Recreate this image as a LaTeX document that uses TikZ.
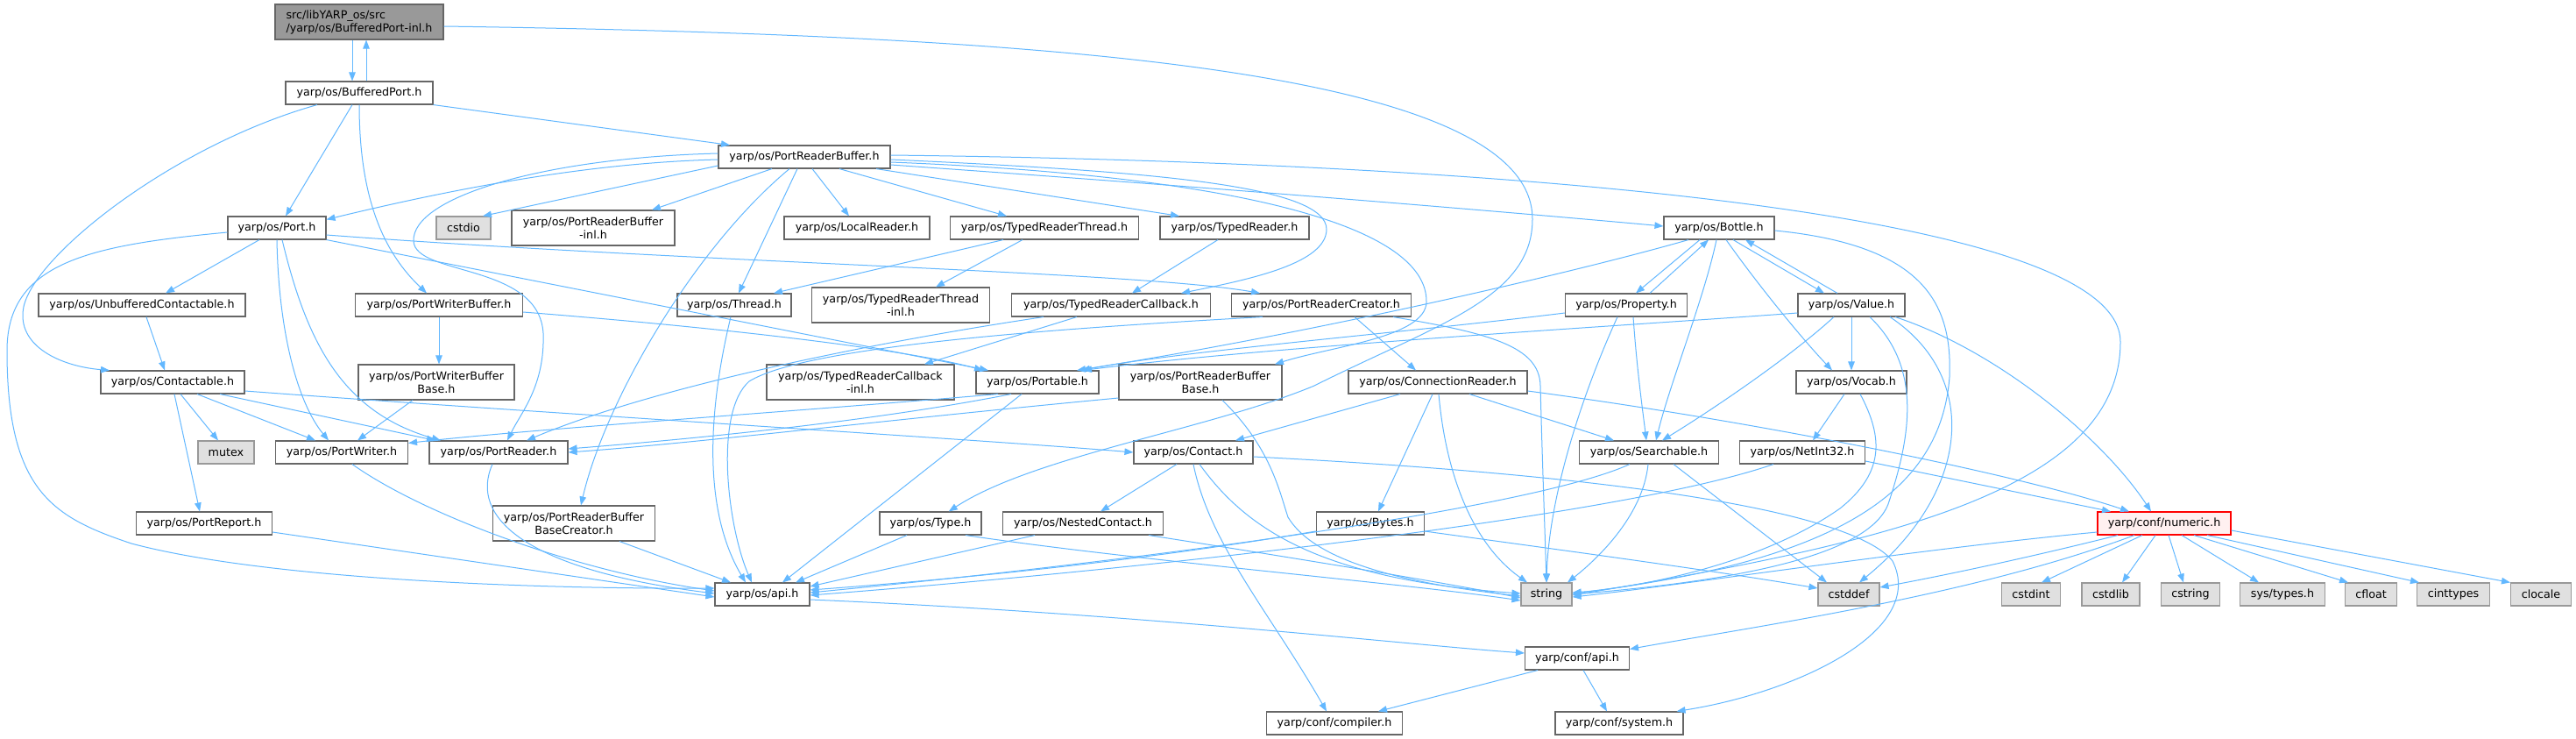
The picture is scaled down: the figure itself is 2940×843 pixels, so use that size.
\documentclass[tikz,border=0pt]{standalone}
\usepackage{fontspec}
\setmainfont{DejaVu Sans}
\usetikzlibrary{arrows.meta}
\definecolor{edgec}{HTML}{63B8FF}
\definecolor{bordc}{HTML}{666666}
\definecolor{extb}{HTML}{999999}
\definecolor{extf}{HTML}{E0E0E0}
\definecolor{topf}{HTML}{999999}
\definecolor{redb}{HTML}{FF0000}
\definecolor{redf}{HTML}{FFF0F0}
\begin{document}
\begin{tikzpicture}[x=1pt,y=-1pt,
 box/.style={draw=bordc, fill=white, line width=1.1pt, inner sep=0pt, minimum height=26pt,
   font=\fontsize{12.7}{15}\selectfont, align=center, text=black},
 box2/.style={box, minimum height=40pt},
 ext/.style={box, draw=extb, fill=extf},
 topbox/.style={box2, fill=topf, align=left},
 redbox/.style={box, draw=redb, fill=redf},
 edge/.style={draw=edgec, line width=1pt, -{Triangle[length=10pt,width=7.5pt]}}]
\useasboundingbox (0,0) rectangle (2940,843);
\fill[white] (0,0) rectangle (2940,843);
% nodes
\node[topbox, minimum width=192pt] (T) at (410,25) {src/libYARP\_os/src\\/yarp/os/BufferedPort-inl.h};
\node[box, minimum width=168pt] (BP) at (410,106) {yarp/os/BufferedPort.h};
\node[box, minimum width=196pt] (PRB) at (918,179) {yarp/os/PortReaderBuffer.h};
\node[box, minimum width=112pt] (Port) at (316,260) {yarp/os/Port.h};
\node[ext, minimum width=62pt] (cstdio) at (529,260) {cstdio};
\node[box2, minimum width=186pt] (PRBinl) at (677,260) {yarp/os/PortReaderBuffer\\-inl.h};
\node[box, minimum width=166pt] (LocalReader) at (978,260) {yarp/os/LocalReader.h};
\node[box, minimum width=215pt] (TRT) at (1192,260) {yarp/os/TypedReaderThread.h};
\node[box, minimum width=170pt] (TR) at (1409,260) {yarp/os/TypedReader.h};
\node[box, minimum width=126pt] (Bottle) at (1962,260) {yarp/os/Bottle.h};
\node[box, minimum width=236pt] (UC) at (162,348) {yarp/os/UnbufferedContactable.h};
\node[box, minimum width=191pt] (PWB) at (501,348) {yarp/os/PortWriterBuffer.h};
\node[box, minimum width=130pt] (Thread) at (838,348) {yarp/os/Thread.h};
\node[box2, minimum width=203pt] (TRTinl) at (1028,348) {yarp/os/TypedReaderThread\\-inl.h};
\node[box, minimum width=227pt] (TRC) at (1268,348) {yarp/os/TypedReaderCallback.h};
\node[box, minimum width=205pt] (PRC) at (1508,348) {yarp/os/PortReaderCreator.h};
\node[box, minimum width=139pt] (Property) at (1856,348) {yarp/os/Property.h};
\node[box, minimum width=122pt] (Value) at (2113,348) {yarp/os/Value.h};
\node[box, minimum width=164pt] (Contactable) at (197,436) {yarp/os/Contactable.h};
\node[box2, minimum width=178pt] (PWBB) at (498,436) {yarp/os/PortWriterBuffer\\Base.h};
\node[box2, minimum width=214pt] (TRCinl) at (982,436) {yarp/os/TypedReaderCallback\\-inl.h};
\node[box, minimum width=140pt] (Portable) at (1184,436) {yarp/os/Portable.h};
\node[box2, minimum width=186pt] (PRBB) at (1370,436) {yarp/os/PortReaderBuffer\\Base.h};
\node[box, minimum width=204pt] (CR) at (1641,436) {yarp/os/ConnectionReader.h};
\node[box, minimum width=126pt] (Vocab) at (2113,436) {yarp/os/Vocab.h};
\node[ext, minimum width=64pt] (mutex) at (258,516) {mutex};
\node[box, minimum width=151pt] (PW) at (390,516) {yarp/os/PortWriter.h};
\node[box, minimum width=158pt] (PR) at (569,516) {yarp/os/PortReader.h};
\node[box, minimum width=136pt] (Contact) at (1362,516) {yarp/os/Contact.h};
\node[box, minimum width=159pt] (Searchable) at (1882,516) {yarp/os/Searchable.h};
\node[box, minimum width=143pt] (NetInt32) at (2057,516) {yarp/os/NetInt32.h};
\node[box, minimum width=155pt] (PortReport) at (233,597) {yarp/os/PortReport.h};
\node[box2, minimum width=185pt] (PRBBC) at (655,597) {yarp/os/PortReaderBuffer\\BaseCreator.h};
\node[box, minimum width=116pt] (Type) at (1062,597) {yarp/os/Type.h};
\node[box, minimum width=183pt] (NC) at (1236,597) {yarp/os/NestedContact.h};
\node[box, minimum width=123pt] (Bytes) at (1564,597) {yarp/os/Bytes.h};
\node[redbox, minimum width=152pt] (numeric) at (2470,597) {yarp/conf/numeric.h};
\node[box, minimum width=108pt] (api) at (870,678) {yarp/os/api.h};
\node[ext, minimum width=58pt] (string) at (1765,678) {string};
\node[ext, minimum width=70pt] (cstddef) at (2110,678) {cstddef};
\node[ext, minimum width=67pt] (cstdint) at (2318,678) {cstdint};
\node[ext, minimum width=66pt] (cstdlib) at (2409,678) {cstdlib};
\node[ext, minimum width=67pt] (cstring) at (2500,678) {cstring};
\node[ext, minimum width=97pt] (systypes) at (2605,678) {sys/types.h};
\node[ext, minimum width=59pt] (cfloat) at (2706,678) {cfloat};
\node[ext, minimum width=83pt] (cinttypes) at (2800,678) {cinttypes};
\node[ext, minimum width=69pt] (clocale) at (2900,678) {clocale};
\node[box, minimum width=119pt] (confapi) at (1800,751) {yarp/conf/api.h};
\node[box, minimum width=155pt] (compiler) at (1523,825) {yarp/conf/compiler.h};
\node[box, minimum width=146pt] (system) at (1848,825) {yarp/conf/system.h};
% edges
\draw[edge] ([xshift=-8pt]T.south) -- ([xshift=-8pt]BP.north);
\draw[edge] ([xshift=8pt]BP.north) -- ([xshift=8pt]T.south);
\draw[edge] ([yshift=-5pt]T.east) .. controls (1200,40) and (1749,80) .. (1749,250) .. controls (1749,340) and (1640,370) .. (1500,440) .. controls (1380,490) and (1180,520) .. (Type);
\draw[edge] ([xshift=-48pt]BP.south) .. controls (200,165) and (40,290) .. (27,350) .. controls (18,395) and (70,418) .. ([xshift=-72pt]Contactable.north);
\draw[edge] ([xshift=-8pt]BP.south) -- ([xshift=10pt]Port.north);
\draw[edge] (BP.south) .. controls (410,230) and (440,290) .. ([xshift=-14pt]PWB.north);
\draw[edge] (BP.south east) -- ([xshift=-85pt]PRB.north);
\draw[edge] ([xshift=-20pt]Port.south) -- ([xshift=27pt]UC.north);
\draw[edge] ([yshift=-5pt]Port.west) .. controls (100,280) and (8,300) .. (8,400) .. controls (8,560) and (60,590) .. (150,620) .. controls (300,660) and (600,672) .. ([yshift=7pt]api.west);
\draw[edge] (Port.south) .. controls (318,380) and (340,460) .. ([xshift=-15pt]PW.north);
\draw[edge] ([xshift=6pt]Port.south) .. controls (350,390) and (390,470) .. ([xshift=-66pt]PR.north);
\draw[edge] ([yshift=-8pt]Port.east) .. controls (800,300) and (1300,310) .. ([xshift=-70pt]PRC.north);
\draw[edge] (Port.south east) -- ([xshift=-56pt]Portable.north);
\draw[edge] (PWB.south) -- (PWB.south |- PWBB.north);
\draw[edge] ([yshift=-8pt]PWB.east) .. controls (900,380) and (1060,405) .. ([xshift=-62pt]Portable.north);
\draw[edge] ([xshift=5pt]UC.south) -- ([xshift=-9pt]Contactable.north);
\draw[edge] ([xshift=9pt]Contactable.south) -- ([xshift=-9pt]mutex.north);
\draw[edge] ([xshift=28pt]Contactable.south) -- ([xshift=-30pt]PW.north);
\draw[edge] ([xshift=54pt]Contactable.south) -- ([xshift=-72pt]PR.north);
\draw[edge] ([yshift=-10pt]Contactable.east) .. controls (600,470) and (1100,500) .. (Contact.west);
\draw[edge] ([xshift=2pt]Contactable.south) -- ([xshift=-5pt]PortReport.north);
\draw[edge] ([xshift=-27pt]PWBB.south) -- ([xshift=18pt]PW.north);
\draw[edge] ([xshift=12pt]PW.south) .. controls (480,585) and (650,650) .. ([yshift=4pt]api.west);
\draw[edge] ([xshift=-7pt]PR.south) .. controls (535,590) and (600,650) .. ([yshift=1pt]api.west);
\draw[edge] ([yshift=-10pt]PortReport.east) -- ([yshift=-3pt]api.west);
\draw[edge] ([xshift=52pt]PRBBC.south) -- ([xshift=-36pt]api.north);
\draw[edge] ([yshift=-3pt]PRB.west) .. controls (700,185) and (560,205) .. ([yshift=-4pt]Port.north east);
\draw[edge] ([yshift=-10pt]PRB.west) -- ([xshift=22pt]cstdio.north);
\draw[edge] ([yshift=4pt]PRB.west) .. controls (620,180) and (470,225) .. (472,275) .. controls (474,315) and (615,300) .. (620,380) .. controls (622,440) and (595,470) .. ([xshift=10pt]PR.north);
\draw[edge] ([xshift=-37pt]PRB.south) -- ([xshift=67pt]PRBinl.north);
\draw[edge] ([xshift=-17pt]PRB.south) .. controls (790,285) and (690,460) .. ([xshift=8pt]PRBBC.north);
\draw[edge] ([xshift=-8pt]PRB.south) -- ([xshift=5pt]Thread.north);
\draw[edge] ([xshift=9pt]PRB.south) -- ([xshift=-9pt]LocalReader.north);
\draw[edge] ([xshift=40pt]PRB.south) -- ([xshift=-43pt]TRT.north);
\draw[edge] ([xshift=82pt]PRB.south) -- ([xshift=-63pt]TR.north);
\draw[edge] ([yshift=-3pt]PRB.east) .. controls (1300,195) and (1515,210) .. (1514,262) .. controls (1513,300) and (1430,318) .. ([xshift=80pt]TRC.north);
\draw[edge] ([yshift=-9pt]PRB.east) .. controls (1400,215) and (1700,240) .. ([yshift=2pt]Bottle.west);
\draw[edge] ([yshift=2pt]PRB.east) .. controls (1700,185) and (2420,240) .. (2420,390) .. controls (2420,560) and (2150,620) .. ([yshift=-1pt]string.east);
\draw[edge] ([yshift=-6pt]PRB.east) .. controls (1400,200) and (1630,255) .. (1628,345) .. controls (1626,385) and (1520,395) .. ([xshift=85pt]PRBB.north);
\draw[edge] ([xshift=-47pt]TRT.south) -- ([xshift=45pt]Thread.north);
\draw[edge] ([xshift=-25pt]TRT.south) -- ([xshift=40pt]TRTinl.north);
\draw[edge] ([xshift=-19pt]TR.south) -- ([xshift=24pt]TRC.north);
\draw[edge] ([xshift=-4pt]Thread.south) .. controls (815,440) and (795,570) .. ([xshift=-19pt]api.north);
\draw[edge] ([xshift=-77pt]TRC.south) .. controls (1000,390) and (750,440) .. ([xshift=32pt]PR.north);
\draw[edge] ([xshift=-39pt]TRC.south) -- ([xshift=73pt]TRCinl.north);
\draw[edge] ([xshift=-67pt]PRC.south) .. controls (1200,375) and (920,395) .. (855,435) .. controls (815,470) and (830,600) .. ([xshift=-12pt]api.north);
\draw[edge] ([xshift=38pt]PRC.south) -- ([xshift=-25pt]CR.north);
\draw[edge] ([xshift=82pt]PRC.south) .. controls (1700,380) and (1757,395) .. (1758,440) .. controls (1760,520) and (1763,600) .. (string.north);
\draw[edge] ([xshift=-45pt]Portable.south) .. controls (900,470) and (600,490) .. ([yshift=-3pt]PW.north east);
\draw[edge] ([xshift=-30pt]Portable.south) .. controls (1000,480) and (800,500) .. ([yshift=4pt]PR.east);
\draw[edge] ([xshift=-18pt]Portable.south) -- ([xshift=23pt]api.north);
\draw[edge] ([yshift=-18pt]PRBB.west) .. controls (1000,480) and (800,505) .. (PR.east);
\draw[edge] ([xshift=25pt]PRBB.south) .. controls (1450,510) and (1460,560) .. (1470,590) .. controls (1500,640) and (1600,665) .. ([yshift=-2pt]string.west);
\draw[edge] ([xshift=-19pt]Contact.south) -- ([xshift=20pt]NC.north);
\draw[edge] (Contact.south) .. controls (1380,620) and (1450,700) .. ([xshift=-9pt]compiler.north);
\draw[edge] ([xshift=7pt]Contact.south) .. controls (1420,600) and (1500,660) .. ([yshift=1pt]string.west);
\draw[edge] ([yshift=-5pt]Contact.east) .. controls (1900,545) and (2120,590) .. (2160,640) .. controls (2200,720) and (2050,790) .. ([xshift=-8pt]system.north east);
\draw[edge] ([xshift=-55pt]NC.south) -- ([yshift=9pt]api.east);
\draw[edge] ([xshift=75pt]NC.south) .. controls (1500,640) and (1650,665) .. ([yshift=-4pt]string.west);
\draw[edge] ([xshift=-27pt]Type.south) -- ([xshift=38pt]api.north);
\draw[edge] ([xshift=40pt]Type.south) .. controls (1300,640) and (1600,665) .. ([yshift=-7pt]string.west);
\draw[edge] ([xshift=-43pt]CR.south) -- ([xshift=48pt]Contact.north);
\draw[edge] ([xshift=-6pt]CR.south) -- ([xshift=9pt]Bytes.north);
\draw[edge] ([xshift=1pt]CR.south) .. controls (1650,540) and (1680,620) .. ([xshift=-22pt]string.north);
\draw[edge] ([xshift=36pt]CR.south) -- ([xshift=-40pt]Searchable.north);
\draw[edge] ([yshift=-10pt]CR.east) .. controls (2000,480) and (2300,540) .. ([xshift=-40pt]numeric.north);
\draw[edge] ([yshift=-9pt]Bytes.west) .. controls (1300,640) and (1100,660) .. ([yshift=5pt]api.east);
\draw[edge] ([yshift=-9pt]Bytes.east) .. controls (1800,630) and (1950,650) .. ([yshift=7pt]cstddef.west);
\draw[edge] ([xshift=-22pt]Searchable.south) .. controls (1750,580) and (1300,640) .. ([yshift=2pt]api.east);
\draw[edge] ([xshift=-1pt]Searchable.south) .. controls (1875,590) and (1820,640) .. ([xshift=24pt]string.north);
\draw[edge] ([xshift=28pt]Searchable.south) -- ([xshift=-25pt]cstddef.north);
\draw[edge] ([xshift=-33pt]NetInt32.south) .. controls (1850,590) and (1300,650) .. ([yshift=-1pt]api.east);
\draw[edge] ([yshift=-10pt]NetInt32.east) -- ([xshift=-61pt]numeric.north);
\draw[edge] ([xshift=-8pt]Vocab.south) -- ([xshift=12pt]NetInt32.north);
\draw[edge] ([xshift=10pt]Vocab.south) .. controls (2150,500) and (2150,540) .. (2100,580) .. controls (2000,650) and (1850,672) .. ([yshift=2pt]string.east);
\draw[edge] ([xshift=-16pt]Value.north) -- ([xshift=30pt]Bottle.south);
\draw[edge] ([xshift=16pt]Bottle.south) -- ([xshift=-31pt]Value.north);
\draw[edge] ([xshift=-22pt]Bottle.south) -- ([xshift=11pt]Property.north);
\draw[edge] ([xshift=27pt]Property.north) -- ([xshift=-12pt]Bottle.south);
\draw[edge] ([xshift=-3pt]Bottle.south) .. controls (1945,340) and (1905,440) .. ([xshift=8pt]Searchable.north);
\draw[edge] ([xshift=8pt]Bottle.south) .. controls (2010,330) and (2060,390) .. ([xshift=-22pt]Vocab.north);
\draw[edge] ([xshift=-35pt]Bottle.south) .. controls (1800,310) and (1500,380) .. ([xshift=45pt]Portable.north);
\draw[edge] ([yshift=-9pt]Property.west) .. controls (1600,380) and (1350,400) .. ([xshift=50pt]Portable.north);
\draw[edge] ([yshift=-9pt]Value.west) .. controls (1850,372) and (1450,395) .. ([xshift=52pt]Portable.north);
\draw[edge] ([xshift=8pt]Property.south) .. controls (1868,420) and (1875,470) .. ([xshift=-3pt]Searchable.north);
\draw[edge] ([xshift=-10pt]Property.south) .. controls (1810,440) and (1768,560) .. (string.north);
\draw[edge] (Value.south) -- (Vocab.north);
\draw[edge] ([xshift=-20pt]Value.south) .. controls (2040,410) and (1950,470) .. ([xshift=15pt]Searchable.north);
\draw[edge] ([xshift=21pt]Value.south) .. controls (2195,420) and (2180,500) .. (2155,575) .. controls (2130,640) and (1950,665) .. ([yshift=0pt]string.east);
\draw[edge] ([xshift=44pt]Value.south) .. controls (2260,430) and (2250,560) .. ([xshift=12pt]cstddef.north);
\draw[edge] ([xshift=50pt]Value.south) .. controls (2280,400) and (2400,500) .. ([xshift=-15pt]numeric.north);
\draw[edge] ([yshift=-3pt]Bottle.east) .. controls (2200,280) and (2228,350) .. (2225,430) .. controls (2215,560) and (2100,640) .. ([yshift=1pt]string.east);
\draw[edge] ([yshift=-10pt]numeric.west) .. controls (2200,625) and (1900,670) .. ([yshift=-3pt]string.east);
\draw[edge] ([xshift=-53pt]numeric.south) .. controls (2300,640) and (2200,660) .. ([yshift=8pt]cstddef.east);
\draw[edge] ([xshift=-34pt]numeric.south) .. controls (2250,680) and (2000,715) .. ([yshift=-3pt]confapi.north east);
\draw[edge] ([xshift=-25pt]numeric.south) -- ([xshift=12pt]cstdint.north);
\draw[edge] ([xshift=-10pt]numeric.south) -- ([xshift=13pt]cstdlib.north);
\draw[edge] ([xshift=5pt]numeric.south) -- ([xshift=-8pt]cstring.north);
\draw[edge] ([xshift=20pt]numeric.south) -- ([xshift=-27pt]systypes.north);
\draw[edge] ([xshift=34pt]numeric.south) -- ([xshift=-26pt]cfloat.north);
\draw[edge] ([xshift=49pt]numeric.south) -- ([xshift=3pt]cinttypes.north west);
\draw[edge] ([yshift=-8pt]numeric.east) -- (clocale.north west);
\draw[edge] ([xshift=-45pt]confapi.south) -- ([xshift=50pt]compiler.north);
\draw[edge] ([xshift=7pt]confapi.south) -- ([xshift=-14pt]system.north);
\draw[edge] ([yshift=-6pt]api.east) .. controls (1300,700) and (1600,735) .. ([yshift=6pt]confapi.west);
\end{tikzpicture}
\end{document}
